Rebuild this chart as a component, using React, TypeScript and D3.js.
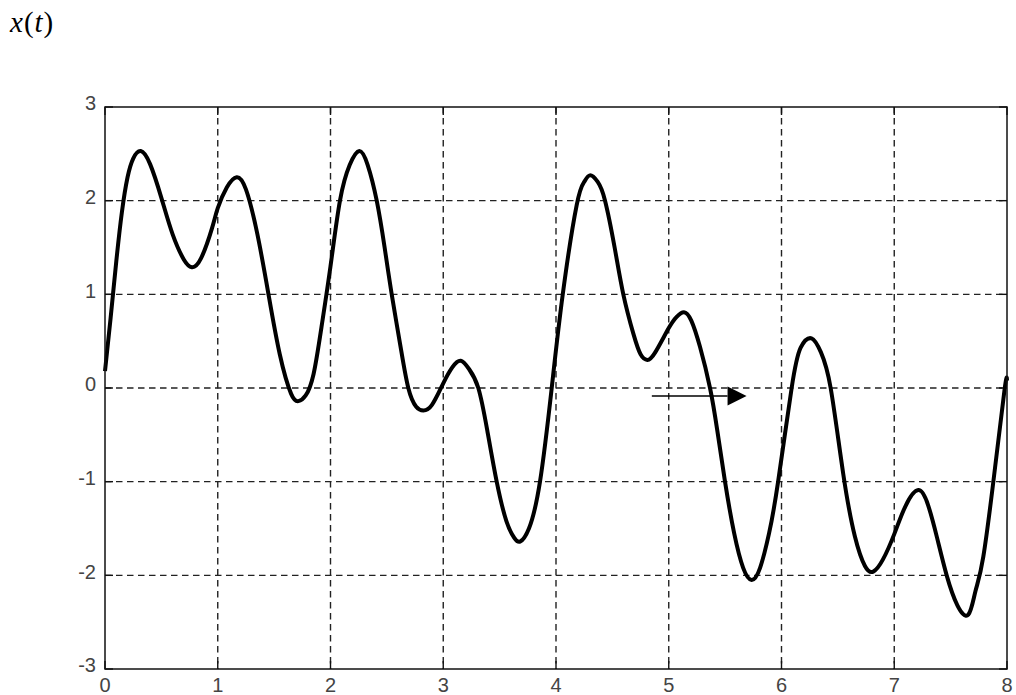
import React from "react";
import * as d3 from "d3";

// t values (s) and signal values
const tValues = [
  0, 0.05, 0.1, 0.15, 0.2, 0.25, 0.317,
  0.4, 0.5, 0.6, 0.7, 0.77,
  0.85, 0.95, 1.0, 1.08, 1.168,
  1.25, 1.35, 1.45, 1.55, 1.65, 1.715,
  1.78, 1.85, 1.92, 2.0, 2.084, 2.17, 2.256,
  2.33, 2.41, 2.48, 2.543, 2.62, 2.69, 2.76, 2.823,
  2.9, 3.0, 3.08, 3.155,
  3.23, 3.311, 3.39, 3.474, 3.56, 3.63, 3.681,
  3.76, 3.858, 3.962, 4.06, 4.183, 4.25, 4.3,
  4.37, 4.435, 4.52, 4.597, 4.686, 4.75, 4.81,
  4.88, 5.0, 5.07, 5.135,
  5.2, 5.277, 5.366, 5.43, 5.499, 5.58, 5.66, 5.735,
  5.81, 5.89, 5.97, 6.09, 6.17, 6.267,
  6.35, 6.436, 6.548, 6.65, 6.74, 6.814,
  6.9, 7.0, 7.1, 7.213,
  7.3, 7.38, 7.465, 7.56, 7.657,
  7.72, 7.79, 7.894, 7.98, 8.0,
];
const xValues = [
  0.18, 0.75, 1.35, 1.88, 2.25, 2.45, 2.53,
  2.39, 2.03, 1.64, 1.37, 1.29,
  1.38, 1.71, 1.92, 2.14, 2.25,
  2.12, 1.65, 1.0, 0.36, -0.06, -0.14,
  -0.08, 0.15, 0.65, 1.3, 2.0, 2.38, 2.53,
  2.38, 2.0, 1.5, 1.0, 0.45, 0.0, -0.2, -0.24,
  -0.18, 0.05, 0.22, 0.29,
  0.2, 0.0, -0.45, -1.0, -1.42, -1.6, -1.64,
  -1.5, -1.0, 0.0, 1.0, 1.95, 2.2, 2.27,
  2.2, 2.0, 1.5, 1.0, 0.58, 0.36, 0.3,
  0.38, 0.64, 0.76, 0.81,
  0.72, 0.44, 0.0, -0.45, -1.0, -1.55, -1.92, -2.05,
  -1.92, -1.55, -1.0, 0.0, 0.43, 0.53,
  0.38, 0.0, -0.92, -1.58, -1.9, -1.96,
  -1.83, -1.56, -1.26, -1.09,
  -1.25, -1.6, -2.0, -2.32, -2.42,
  -2.17, -1.8, -0.85, 0.0, 0.08,
];
const xTicks = [0, 1, 2, 3, 4, 5, 6, 7, 8];
const yTicks = [-3, -2, -1, 0, 1, 2, 3];
const arrowStart = { t: 4.85, v: -0.085 };
const arrowEnd = { t: 5.69, v: -0.085 };

const W = 1016;
const H = 695;
const L = 105;
const R = 1007;
const T = 107;
const B = 669;

export default function App() {
  const x = d3.scaleLinear().domain([0, 8]).range([L, R]);
  const y = d3.scaleLinear().domain([-3, 3]).range([B, T]);
  const pts: [number, number][] = tValues.map((t, i) => [t, xValues[i]]);
  const line = d3
    .line<[number, number]>()
    .x((d) => x(d[0]))
    .y((d) => y(d[1]))
    .curve(d3.curveNatural);

  const ax0 = x(arrowStart.t);
  const ax1 = x(arrowEnd.t);
  const ay = y(arrowStart.v);
  const headLen = 19;
  const headHalf = 9.5;

  const gridColor = "#222";
  const tickLen = 8;
  const labelFont = "'Liberation Sans', Arial, sans-serif";

  return (
    <svg
      width={W}
      height={H}
      style={{ position: "absolute", left: 0, top: 0, background: "#fff" }}
    >
      <rect x={0} y={0} width={W} height={H} fill="#fff" />
      <text
        x={10}
        y={32}
        fontFamily="'Liberation Serif', 'Times New Roman', serif"
        fontSize={29}
        letterSpacing={1}
        fill="#000"
      >
        <tspan fontStyle="italic">x</tspan>
        <tspan>(</tspan>
        <tspan fontStyle="italic">t</tspan>
        <tspan>)</tspan>
      </text>

      {/* grid */}
      <g stroke={gridColor} strokeWidth={1.4} strokeDasharray="6.5,4.5" fill="none">
        {xTicks.slice(1, -1).map((t) => (
          <line key={"gx" + t} x1={x(t)} x2={x(t)} y1={T} y2={B} />
        ))}
        {yTicks.slice(1, -1).map((v) => (
          <line key={"gy" + v} x1={L} x2={R} y1={y(v)} y2={y(v)} />
        ))}
      </g>

      {/* ticks */}
      <g stroke="#111" strokeWidth={1.4}>
        {xTicks.map((t) => (
          <g key={"tx" + t}>
            <line x1={x(t)} x2={x(t)} y1={B} y2={B - tickLen} />
            <line x1={x(t)} x2={x(t)} y1={T} y2={T + tickLen} />
          </g>
        ))}
        {yTicks.map((v) => (
          <g key={"ty" + v}>
            <line x1={L} x2={L + tickLen} y1={y(v)} y2={y(v)} />
            <line x1={R} x2={R - tickLen} y1={y(v)} y2={y(v)} />
          </g>
        ))}
      </g>

      {/* curve */}
      <path
        d={line(pts) || ""}
        fill="none"
        stroke="#000"
        strokeWidth={4}
        strokeLinejoin="round"
      />

      {/* box */}
      <rect
        x={L}
        y={T}
        width={R - L}
        height={B - T}
        fill="none"
        stroke="#111"
        strokeWidth={1.5}
      />

      {/* labels */}
      <g fontFamily={labelFont} fontSize={20} fill="#444">
        {xTicks.map((t) => (
          <text key={"lx" + t} x={x(t)} y={692} textAnchor="middle">
            {t}
          </text>
        ))}
        {yTicks.map((v) => (
          <text
            key={"ly" + v}
            x={96}
            y={y(v) - 2}
            textAnchor="end"
            dominantBaseline="middle"
          >
            {v}
          </text>
        ))}
      </g>

      {/* arrow */}
      <line x1={ax0} x2={ax1 - headLen} y1={ay} y2={ay} stroke="#000" strokeWidth={1.6} />
      <path
        d={`M${ax1 - headLen},${ay - headHalf} L${ax1},${ay} L${ax1 - headLen},${ay + headHalf} Z`}
        fill="#000"
      />
    </svg>
  );
}
